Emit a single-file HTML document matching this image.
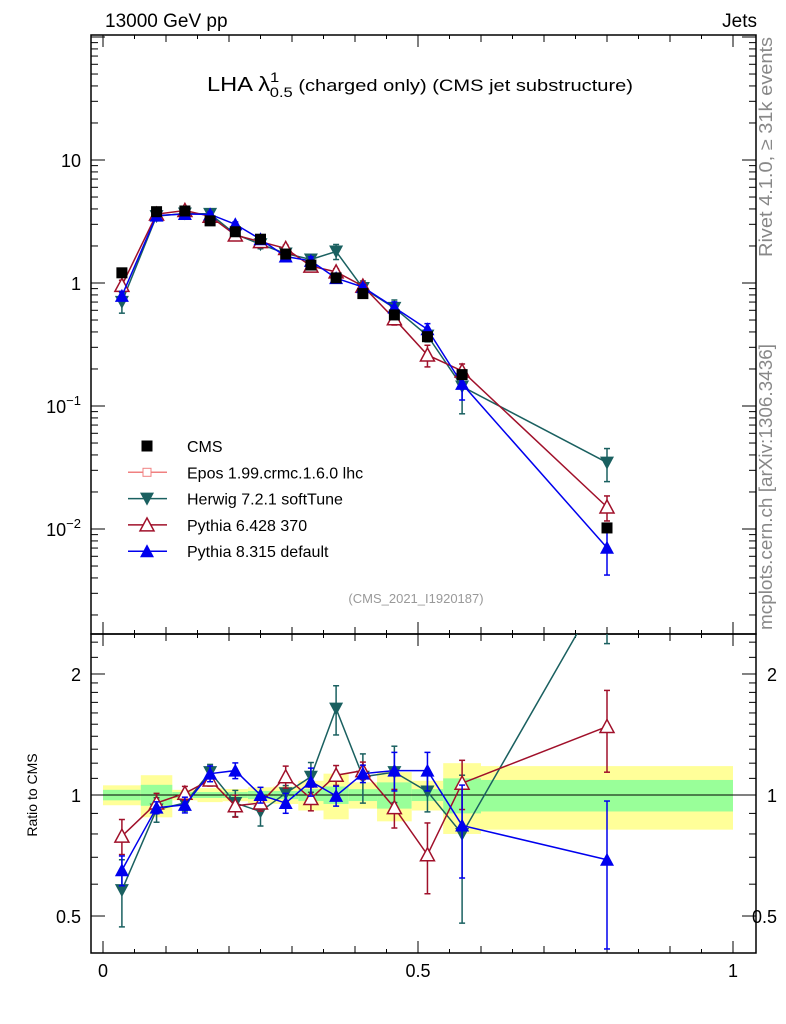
<!DOCTYPE html>
<html><head><meta charset="utf-8"><style>
body{margin:0;background:#fff;}
svg{display:block;font-family:"Liberation Sans",sans-serif;}
</style></head><body>
<svg id="chart" width="786" height="1024" xmlns="http://www.w3.org/2000/svg">
<text x="105" y="27" font-size="19">13000 GeV pp</text>
<text x="757" y="27" font-size="19" text-anchor="end">Jets</text>
<text x="207" y="91" font-size="20" textLength="426" lengthAdjust="spacingAndGlyphs">LHA λ<tspan font-size="14" dy="-9">1</tspan><tspan font-size="14" dx="-8" dy="15">0.5</tspan><tspan font-size="17" dy="-6"> (charged only) (CMS jet substructure)</tspan></text>
<text x="416" y="603" font-size="13" fill="#999" text-anchor="middle">(CMS_2021_I1920187)</text>
<text transform="translate(772,147) rotate(-90)" font-size="18" fill="#888" text-anchor="middle" textLength="220" lengthAdjust="spacingAndGlyphs">Rivet 4.1.0, ≥ 31k events</text>
<text transform="translate(772,487) rotate(-90)" font-size="18" fill="#888" text-anchor="middle" textLength="286" lengthAdjust="spacingAndGlyphs">mcplots.cern.ch [arXiv:1306.3436]</text>
<text transform="translate(37,795) rotate(-90)" font-size="14" text-anchor="middle">Ratio to CMS</text>
<g id="bands"></g><g id="axes"></g><g id="series"></g><g id="legend"></g>
</svg>
<script>
const binEdges=[0,0.06,0.11,0.15,0.19,0.23,0.27,0.31,0.35,0.39,0.435,0.49,0.54,0.6,1.0];
const binCenters=[0.03,0.085,0.13,0.17,0.21,0.25,0.29,0.33,0.37,0.4125,0.4625,0.515,0.57,0.8];
const cmsValues=[1.21,3.8,3.85,3.2,2.61,2.27,1.72,1.4,1.1,0.82,0.55,0.366,0.18,0.0102];
const bandTotal=[0.057,0.12,0.03,0.04,0.035,0.045,0.05,0.085,0.13,0.075,0.14,0.085,0.2,0.18];
const bandStat=[0.03,0.06,0.017,0.017,0.017,0.023,0.023,0.034,0.05,0.034,0.075,0.034,0.1,0.09];
const herwigRatio=[0.58,0.92,0.955,1.14,0.955,0.91,1.01,1.11,1.64,1.11,1.14,1.02,0.80,3.4];
const herwigErr=[0.19,0.07,0.045,0.045,0.075,0.08,0.045,0.085,0.14,0.14,0.16,0.11,0.4,0.3];
const py6Ratio=[0.79,0.955,1.01,1.09,0.94,0.955,1.11,0.98,1.12,1.15,0.93,0.71,1.07,1.48];
const py6Err=[0.1,0.057,0.04,0.034,0.063,0.045,0.063,0.068,0.057,0.05,0.11,0.2,0.14,0.23];
const py8Ratio=[0.65,0.93,0.945,1.13,1.15,1.0,0.955,1.08,0.995,1.13,1.15,1.15,0.84,0.69];
const py8Err=[0.085,0.034,0.045,0.045,0.045,0.045,0.057,0.08,0.057,0.05,0.11,0.11,0.26,0.4];
const xTicks=[0,0.5,1];const xTickLabels=["0","0.5","1"];
const ns="http://www.w3.org/2000/svg";
const X0=103,X1=733,L=91,R=756,T=35,MB=634,RB=953;
function sx(v){return X0+(X1-X0)*v;}
function sy(v){return 283-123*Math.log10(v);}
function ry(r){return 795-402*Math.log10(r);}
function mk(tag,at,parent){const e=document.createElementNS(ns,tag);for(const k in at)e.setAttribute(k,at[k]);parent.appendChild(e);return e;}
const axes=document.getElementById('axes'),bands=document.getElementById('bands'),ser=document.getElementById('series'),leg=document.getElementById('legend');
for(let i=0;i<binCenters.length;i++){
 const x=sx(binEdges[i]),w=sx(binEdges[i+1])-x;
 const a=mk('rect',{x:x,y:ry(1+bandTotal[i]),width:w,height:ry(1-bandTotal[i])-ry(1+bandTotal[i]),fill:'#ffff99'},bands);
 
 
 const b=mk('rect',{x:x,y:ry(1+bandStat[i]),width:w,height:ry(1-bandStat[i])-ry(1+bandStat[i]),fill:'#99ff99'},bands);
 
 
}
mk('line',{x1:L,x2:R,y1:795,y2:795,stroke:'#000','stroke-width':1},bands);
const f1=mk('rect',{x:L,y:T,width:R-L,height:MB-T,fill:'none',stroke:'#000','stroke-width':1.5},axes);


const f2=mk('rect',{x:L,y:MB,width:R-L,height:RB-MB,fill:'none',stroke:'#000','stroke-width':1.5},axes);


for(let k=0;k<=20;k++){const v=k*0.05;const major=(k%10==0);const len=major?12:(k%2==0?7:4);const x=sx(v);
 [[T,1],[MB,-1],[MB,1],[RB,-1]].forEach(([y,d])=>mk('line',{x1:x,x2:x,y1:y,y2:y+d*len,stroke:'#000'},axes));}
xTicks.forEach((v,i)=>{const t=mk('text',{x:sx(v),y:977,'font-size':18,'text-anchor':'middle'},axes);t.textContent=xTickLabels[i];
 
 });
for(let d=-3;d<=2;d++)for(let m=1;m<10;m++){const v=m*Math.pow(10,d);const y=sy(v);if(y<T||y>MB)continue;const len=m==1?14:7;
 mk('line',{x1:L,x2:L+len,y1:y,y2:y,stroke:'#000'},axes);mk('line',{x1:R,x2:R-len,y1:y,y2:y,stroke:'#000'},axes);}
[[10,'10'],[1,'1'],[0.1,'10<tspan dy="-8" font-size="13">−1</tspan>'],[0.01,'10<tspan dy="-8" font-size="13">−2</tspan>']].forEach(([v,s])=>{
 const t=mk('text',{x:81,y:sy(v)+7,'font-size':18,'text-anchor':'end'},axes);t.innerHTML=s;
 
 });
[0.4,0.5,0.6,0.7,0.8,0.9,1,1.1,1.2,1.3,1.4,1.5,1.6,1.7,1.8,1.9,2,2.2,2.4].forEach(v=>{const y=ry(v);if(y<MB||y>RB)return;const len=(v==0.5||v==1||v==2)?14:7;
 mk('line',{x1:L,x2:L+len,y1:y,y2:y,stroke:'#000'},axes);mk('line',{x1:R,x2:R-len,y1:y,y2:y,stroke:'#000'},axes);});
[[2,'2'],[1,'1'],[0.5,'0.5']].forEach(([v,s])=>{
 const t=mk('text',{x:81,y:ry(v)+7,'font-size':18,'text-anchor':'end'},axes);t.textContent=s;
 
 
 const t2=mk('text',{x:777,y:ry(v)+7,'font-size':18,'text-anchor':'end'},axes);t2.textContent=s;
 
 });
mk('clipPath',{id:'cm'},axes);mk('rect',{x:L,y:T,width:R-L,height:MB-T},document.getElementById('cm'));
mk('clipPath',{id:'cr'},axes);mk('rect',{x:L,y:MB,width:R-L,height:RB-MB},document.getElementById('cr'));
function marker(g,kind,color,x,y){
 if(kind=='sq')mk('rect',{x:x-5.5,y:y-5.5,width:11,height:11,fill:color},g);
 else if(kind=='down')mk('polygon',{points:`${x-7},${y-6} ${x+7},${y-6} ${x},${y+7}`,fill:color},g);
 else if(kind=='up')mk('polygon',{points:`${x-7},${y+6} ${x+7},${y+6} ${x},${y-7}`,fill:color},g);
 else if(kind=='open')mk('polygon',{points:`${x-7},${y+6} ${x+7},${y+6} ${x},${y-7}`,fill:'#fff',stroke:color,'stroke-width':1.5},g);
}
function drawSeries(name,ratio,err,color,kind){
 const gm=mk('g',{'clip-path':'url(#cm)'},ser);
 
 
 const gr=mk('g',{'clip-path':'url(#cr)'},ser);
 
 
 const vals=ratio.map((r,i)=>r*cmsValues[i]);
 mk('polyline',{points:vals.map((v,i)=>sx(binCenters[i])+','+sy(v)).join(' '),fill:'none',stroke:color,'stroke-width':1.5},gm);
 mk('polyline',{points:ratio.map((v,i)=>sx(binCenters[i])+','+ry(v)).join(' '),fill:'none',stroke:color,'stroke-width':1.5},gr);
 vals.forEach((v,i)=>{const x=sx(binCenters[i]);
  [[gm,sy(v*(1+err[i])),sy(Math.max(v*(1-err[i]),1e-6))],[gr,ry(ratio[i]*(1+err[i])),ry(Math.max(ratio[i]*(1-err[i]),1e-6))]].forEach(([g,a,b])=>{
   mk('line',{x1:x,x2:x,y1:a,y2:b,stroke:color,'stroke-width':1.5},g);
   mk('line',{x1:x-3,x2:x+3,y1:a,y2:a,stroke:color,'stroke-width':1.5},g);
   mk('line',{x1:x-3,x2:x+3,y1:b,y2:b,stroke:color,'stroke-width':1.5},g);});
  marker(gm,kind,color,x,sy(v));marker(gr,kind,color,x,ry(ratio[i]));});
}
drawSeries('herwig-series',herwigRatio,herwigErr,'#1a6060','down');
drawSeries('pythia6-series',py6Ratio,py6Err,'#a0102a','open');
drawSeries('pythia8-series',py8Ratio,py8Err,'#0000ee','up');
const gc=mk('g',{},ser);


cmsValues.forEach((v,i)=>marker(gc,'sq','#000',sx(binCenters[i]),sy(v)));
const items=[['CMS','sq','#000'],['Epos 1.99.crmc.1.6.0 lhc','plus','#f08080'],['Herwig 7.2.1 softTune','down','#1a6060'],['Pythia 6.428 370','open','#a0102a'],['Pythia 8.315 default','up','#0000ee']];
items.forEach((it,i)=>{const y=446+i*26.3;const g=mk('g',{},leg);
 
 
 if(it[1]!='sq')mk('line',{x1:128,x2:167,y1:y,y2:y,stroke:it[2],'stroke-width':1.5},g);
 if(it[1]=='plus'){mk('rect',{x:143,y:y-4,width:8,height:8,fill:'#fff',stroke:it[2]},g);}
 else marker(g,it[1],it[2],147,y);
 const t=mk('text',{x:187,y:y+6,'font-size':16},g);t.textContent=it[0];});
</script>
</body></html>
